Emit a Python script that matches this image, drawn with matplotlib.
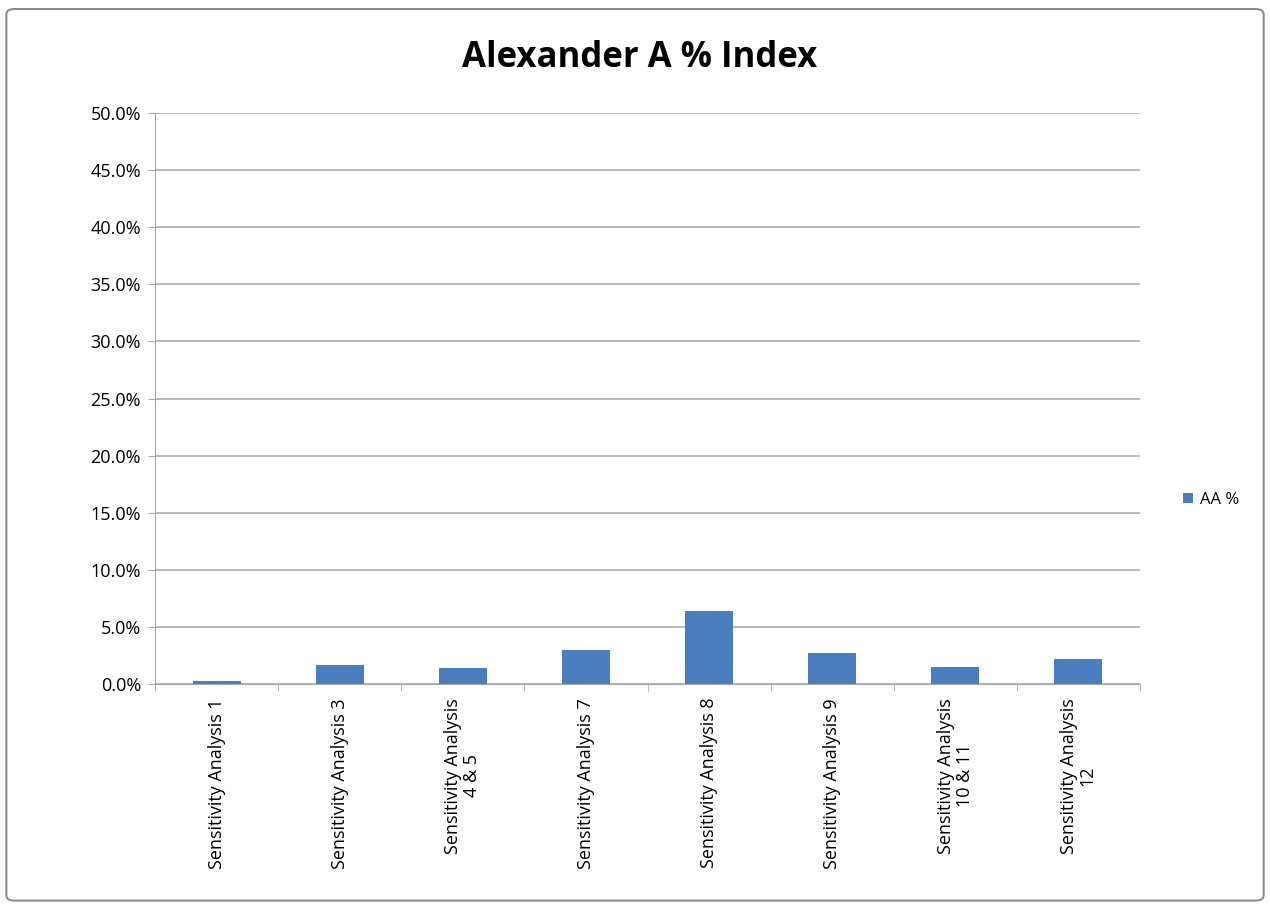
import matplotlib.pyplot as plt
from matplotlib.ticker import PercentFormatter
from matplotlib.patches import FancyBboxPatch
import numpy as np

# AA % per sensitivity analysis
categories = ['Sensitivity Analysis 1', 'Sensitivity Analysis 3', 'Sensitivity Analysis\n4 & 5',
              'Sensitivity Analysis 7', 'Sensitivity Analysis 8', 'Sensitivity Analysis 9',
              'Sensitivity Analysis\n10 & 11', 'Sensitivity Analysis\n12']
aa_pct = [0.3, 1.65, 1.4, 2.95, 6.4, 2.7, 1.45, 2.2]

plt.rcParams['font.family'] = ['Open Sans', 'DejaVu Sans']

fig = plt.figure(figsize=(12.7, 9.06), dpi=100)
ax = fig.add_axes([155 / 1270, 1 - 684 / 906, 985 / 1270, 571 / 906])

# chart border
fig.patches.append(FancyBboxPatch((0.005, 0.006), 0.99, 0.984, boxstyle='round,pad=0,rounding_size=0.006',
                                  transform=fig.transFigure, fill=False, edgecolor='#8c8c8c', linewidth=1.5))

x = np.arange(len(categories))
ax.bar(x, aa_pct, width=0.39, color='#4a7ebf', label='AA %', zorder=3)

ax.set_xlim(-0.5, len(categories) - 0.5)
ax.set_ylim(0, 50)
ax.set_yticks(np.arange(0, 50.1, 5))
ax.yaxis.set_major_formatter(PercentFormatter(decimals=1))
ax.yaxis.grid(True, color='#a6a6a6', linewidth=1.1, zorder=0)

ax.set_xticks(x)
ax.set_xticklabels(categories, rotation=90, ha='center', va='top', fontsize=13, linespacing=1.05)
ax.set_xticks(np.arange(-0.5, len(categories)), minor=True)
ax.tick_params(axis='x', which='major', length=0, pad=10)
ax.tick_params(axis='x', which='minor', length=5, color='#a6a6a6')
ax.tick_params(axis='y', length=5, color='#a6a6a6', labelsize=13, pad=5)

for side in ['top', 'right']:
    ax.spines[side].set_visible(False)
ax.spines['left'].set_color('#a6a6a6')
ax.spines['bottom'].set_color('#a6a6a6')

fig.text(640 / 1270, 1 - 58 / 906, 'Alexander A % Index', ha='center', va='center',
         fontsize=25, fontweight='bold')

fig.legend(loc='center left', bbox_to_anchor=(1168 / 1270, 1 - 500 / 906), frameon=False,
           fontsize=12, handlelength=0.6, handleheight=0.6, handletextpad=0.4)

fig.savefig('out.png', dpi=100)
